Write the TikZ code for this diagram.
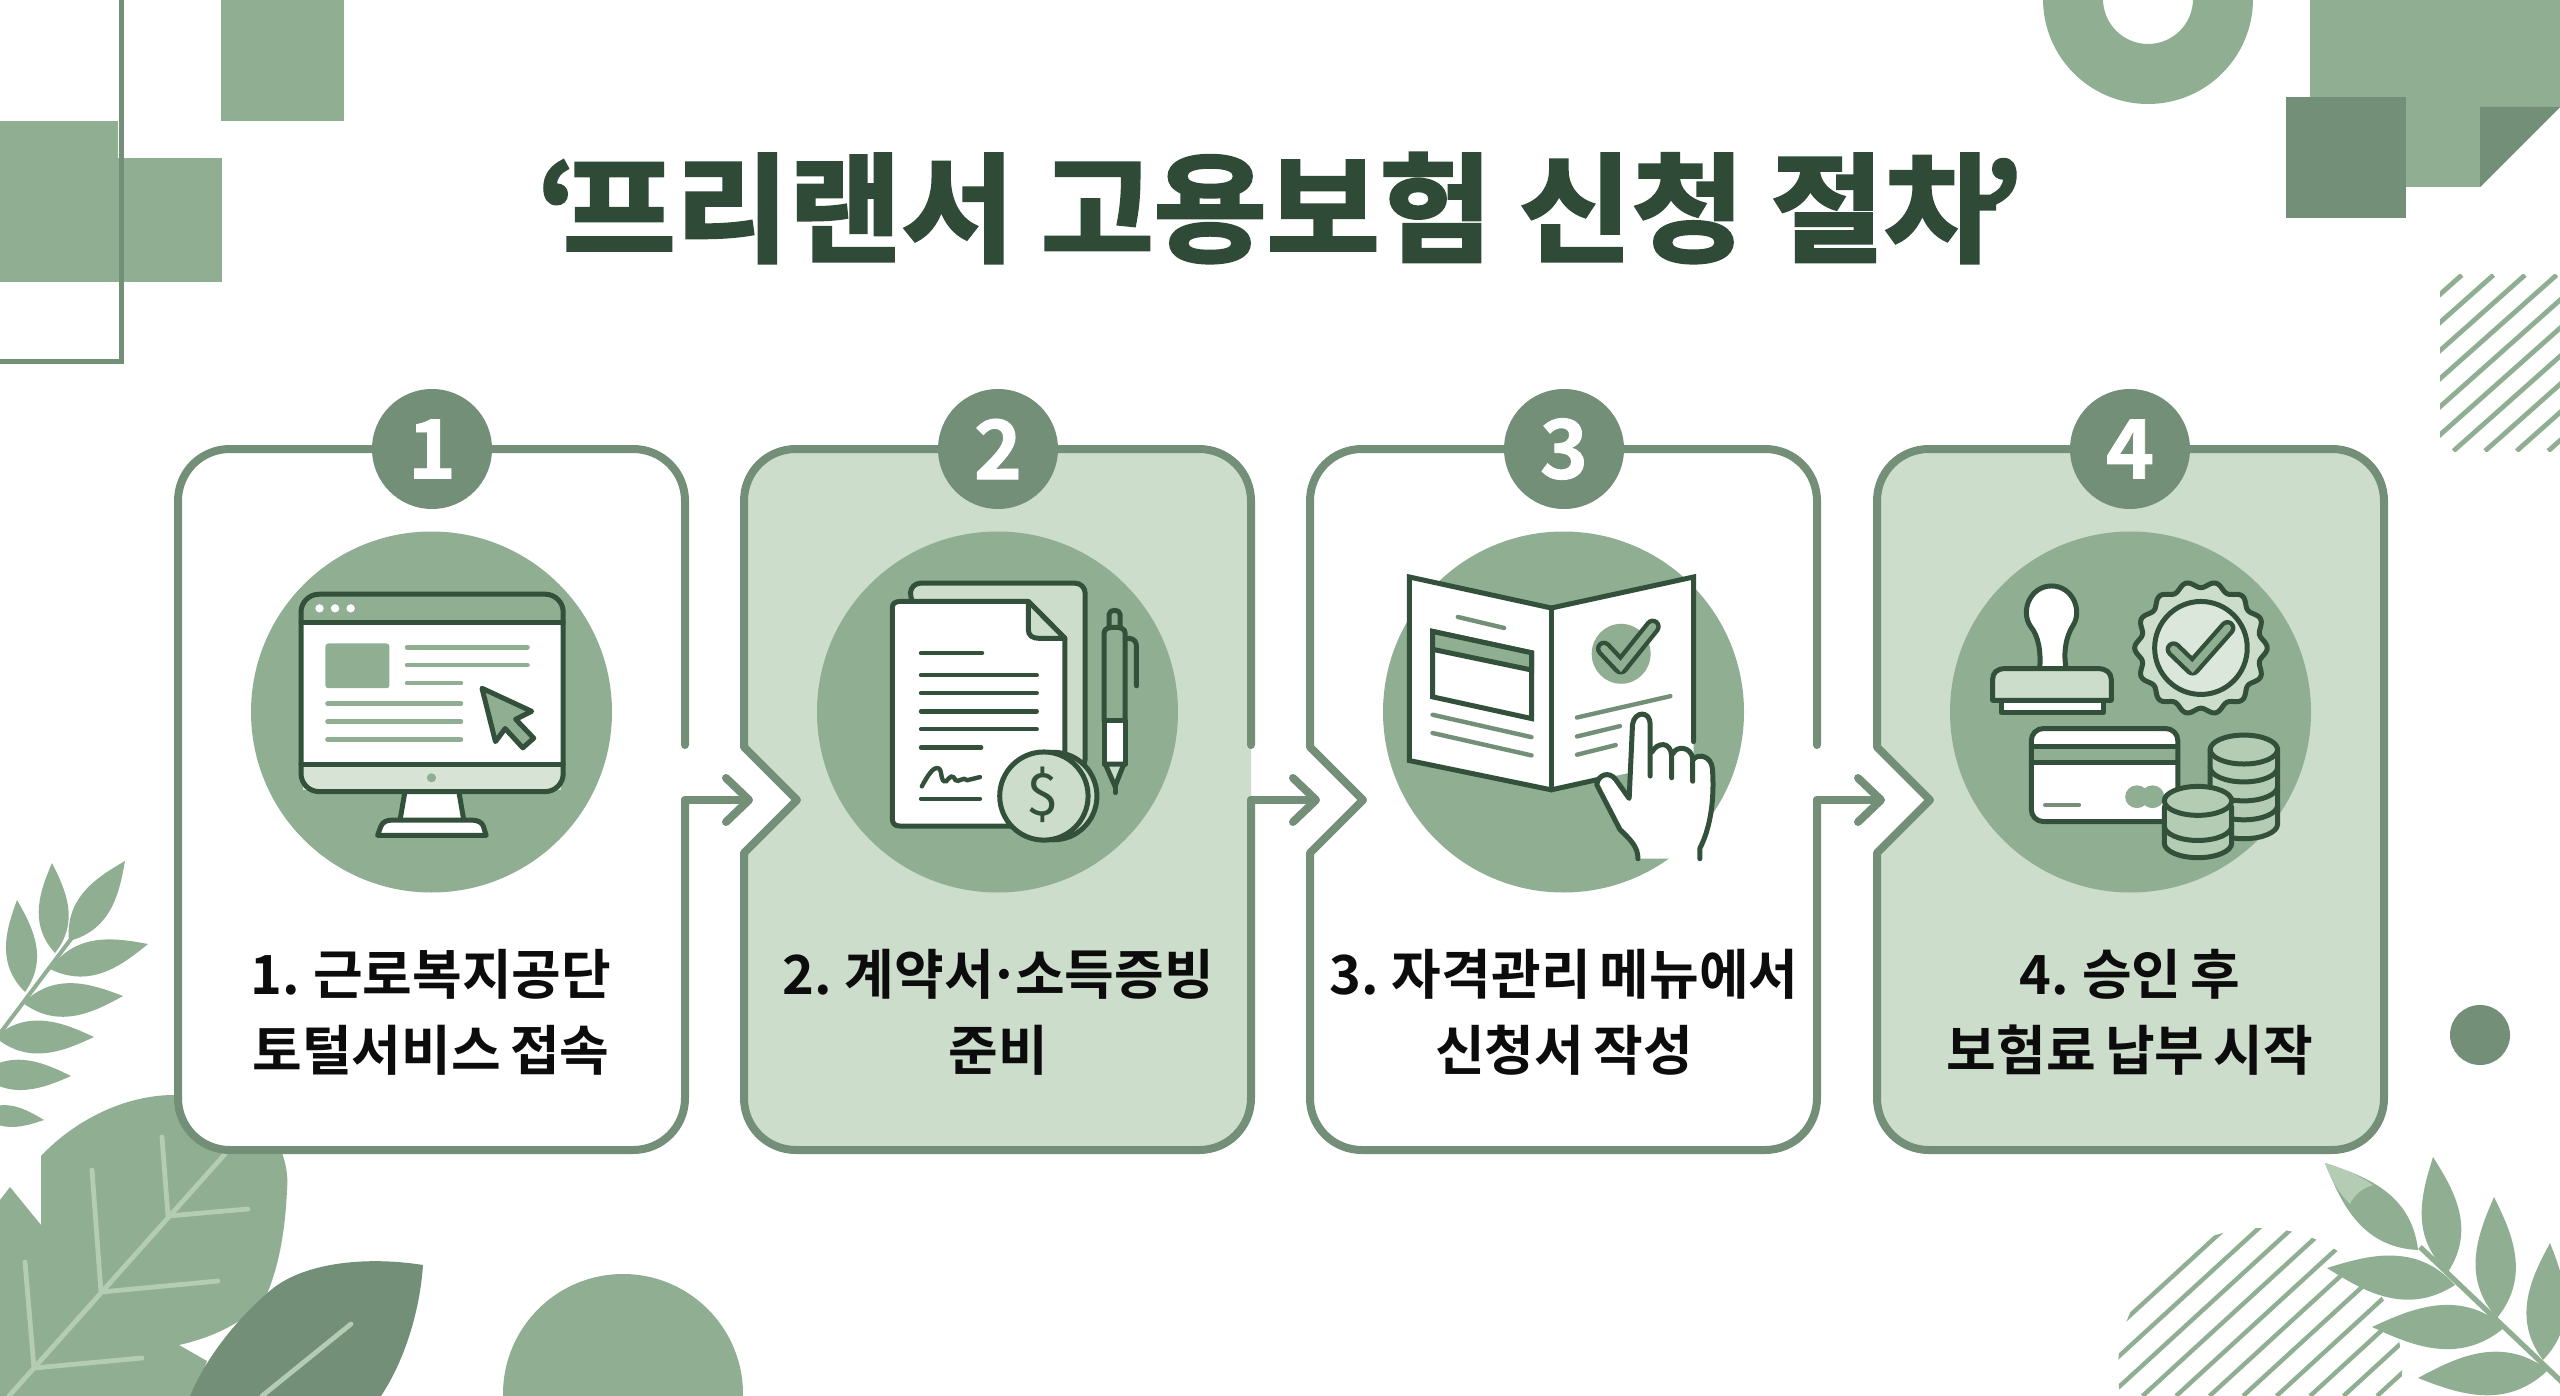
\documentclass[tikz,border=0pt]{standalone}
\usepackage{fontspec}
\usetikzlibrary{calc,arrows.meta}
\newfontfamily\kr{Noto Sans CJK KR}[BoldFont={Noto Sans CJK KR Bold},WordSpace=.75]
\newfontfamily\krdigit{Noto Sans CJK KR Bold}[FakeBold=1]
\newfontfamily\krblack{Noto Sans CJK KR Bold}[FakeBold=2.6,FakeStretch=1.04,WordSpace=.95]
\definecolor{leafmid}{HTML}{8FAE92}
\definecolor{leafdark}{HTML}{748F78}
\definecolor{leafpale}{HTML}{CDDDCB}
\definecolor{leafvein}{HTML}{B5CCB4}
\definecolor{ink}{HTML}{33503B}
\definecolor{titleink}{HTML}{2F4A36}
\definecolor{labelink}{HTML}{0C0C0C}
\tikzset{
  outline/.style={draw=leafdark,line width=4pt,line cap=round,line join=round},
  flowline/.style={draw=leafdark,line width=4pt,line cap=round,line join=round,
    -{Straight Barb[length=11.5pt,width=22pt,round]}},
  badge/.style={circle,fill=leafdark,text=white,minimum size=60pt,inner sep=0pt,
    font=\krdigit\fontsize{41}{41}\selectfont},
  steplabel/.style={align=center,inner sep=0pt,text=labelink,
    font=\kr\bfseries\fontsize{27}{38}\selectfont},
  iconview/.style={xscale=.4209,yscale=.3444},
  inkline/.style={draw=ink,line width=2.5pt,line join=round,line cap=round},
  softbar/.style={draw=leafmid,line width=2.3pt,line cap=round},
  darkbar/.style={draw=leafdark,line width=2.2pt,line cap=round},
  inkbar/.style={draw=ink,line width=2.2pt,line cap=round},
  vein/.style={draw=leafvein,line width=2.4pt,line cap=round},
  checkouter/.style={draw=ink,line width=8pt,line cap=round,line join=round},
  checkinner/.style={draw=leafmid,line width=3.6pt,line cap=round,line join=miter},
}
% Tapered leaf between a base point and a tip
\newcommand\sprigleaf[2]{%
  \fill[leafmid] (#1) .. controls ($(#1)!.35!(#2)!.46!90:(#2)$) and ($(#1)!.72!(#2)!.46!90:(#2)$) .. (#2)
    .. controls ($(#1)!.72!(#2)!.46!-90:(#2)$) and ($(#1)!.35!(#2)!.46!-90:(#2)$) .. (#1) -- cycle;}
% Outer contour of a step card, from the upper end of its right edge round to the lower part
\newcommand\cardcontour[2]{%
  (#1+507,745) -- (#1+507,501) .. controls (#1+507,472) and (#1+484,449) .. (#1+455,449)
  -- (#1+52,449) .. controls (#1+23,449) and (#1,472) .. (#1,501) #2
  -- (#1,1098) .. controls (#1,1127) and (#1+23,1150) .. (#1+52,1150)
  -- (#1+455,1150) .. controls (#1+484,1150) and (#1+507,1127) .. (#1+507,1098)}
\newcommand\notchside[1]{-- (#1,747) -- (#1+53,800) -- (#1,853)}
% One band of a coin stack
\newcommand\coinlayer[3]{%
  \filldraw[inkline,fill=#3] (#1-80,#2-55) -- (#1-80,#2)
    .. controls (#1-80,#2+23) and (#1-44,#2+42) .. (#1,#2+42)
    .. controls (#1+44,#2+42) and (#1+80,#2+23) .. (#1+80,#2) -- (#1+80,#2-55) -- cycle;}
\begin{document}
\begin{tikzpicture}[x=.5pt,y=-.5pt]
\useasboundingbox (0,0) rectangle (2560,1396);
\clip (0,0) rectangle (2560,1396);
\fill[white] (0,0) rectangle (2560,1396);

% Upper left blocks
\fill[leafmid] (221,0) rectangle (344,121);
\fill[leafmid] (0,121) rectangle (118,282);
\fill[leafmid] (118,158) rectangle (222,282);
\draw[leafdark,line width=2.5pt] (121,-5) -- (121,361) -- (-5,361);

% Upper right ring, sheet and hatching
\fill[leafmid,even odd rule] (2148,-1) circle[radius=105] (2148,-1) circle[radius=45];
\fill[leafmid] (2310,0) -- (2560,0) -- (2560,107) -- (2480,187) -- (2310,187) -- cycle;
\fill[leafdark] (2480,107) -- (2560,107) -- (2480,187) -- cycle;
\fill[leafdark] (2286,97) rectangle (2406,218);
\begin{scope}
  \clip (2440,275) rectangle (2560,451);
  \foreach \k in {0,...,10} \draw[leafmid,line width=2.4pt] ({2430.2+31.6*\k},275) -- ({2232.2+31.6*\k},451);
\end{scope}

% Lower right hatching disc, dot and sprig
\begin{scope}
  \clip (2260,1370) circle[radius=142];
  \foreach \k in {0,...,12} \draw[leafmid,line width=2.2pt] ({2042+33.5*\k+214},1200) -- ({2042+33.5*\k},1396);
\end{scope}
\fill[leafdark] (2480,1035) circle[radius=30];
\draw[leafmid,line width=2.6pt] (2420,1247) -- (2565,1385);
\sprigleaf{2418,1250}{2325,1163}
\sprigleaf{2448,1272}{2433,1157}
\sprigleaf{2497,1318}{2494,1197}
\sprigleaf{2543,1360}{2550,1243}
\sprigleaf{2455,1285}{2327,1268}
\sprigleaf{2505,1327}{2372,1327}
\sprigleaf{2548,1370}{2418,1378}
\fill[leafvein] (2325,1163) .. controls (2345,1169) and (2360,1176) .. (2373,1185) .. controls (2362,1188) and (2354,1195) .. (2350,1204) .. controls (2338,1192) and (2330,1178) .. (2325,1163) -- cycle;

% Lower left sprig
\draw[leafmid,line width=2pt] (-5,1040) -- (71,939);
\sprigleaf{69,941}{125,861}
\sprigleaf{55,953}{52,863}
\sprigleaf{25,992}{17,900}
\sprigleaf{50,969}{148,944}
\sprigleaf{23,1003}{123,996}
\sprigleaf{-5,1037}{94,1037}
\sprigleaf{-20,1074}{71,1076}
\sprigleaf{-20,1113}{44,1120}

% Lower left large leaf with its veins
\fill[leafmid] (0,1200) -- (10,1187) -- (41,1225) -- (41,1156)
  .. controls (75,1120) and (125,1095) .. (174,1095) -- (240,1100)
  .. controls (275,1125) and (290,1160) .. (287,1190)
  .. controls (285,1235) and (278,1270) .. (264,1301)
  .. controls (240,1325) and (210,1338) .. (179,1345)
  -- (207,1361) -- (195,1396) -- (0,1396) -- cycle;
\draw[vein] (9,1396) -- (225,1154);
\draw[vein] (34,1368) -- (25,1262) (34,1368) -- (142,1358);
\draw[vein] (101,1292) -- (92,1170) (101,1292) -- (218,1281);
\draw[vein] (168,1216) -- (162,1137) (168,1216) -- (248,1209);

% Dark leaf and bottom disc
\fill[leafdark] (423,1265) .. controls (360,1255) and (300,1265) .. (271,1290)
  .. controls (235,1320) and (205,1360) .. (190,1396) -- (381,1396)
  .. controls (405,1360) and (420,1310) .. (423,1265) -- cycle;
\draw[vein] (351,1324) -- (262,1396);
\fill[leafmid] (623,1394) circle[radius=120];

% Heading
\node[text=titleink,inner sep=0pt,font=\krblack\fontsize{59}{59}\selectfont] (heading) at (1280,208)
  {‘\kern-.12em 프리랜서 고용보험 신청 절차\kern-.12em ’};

% Step cards
\foreach \cid/\cx/\cfill/\side in {1/178/white/,2/744/leafpale/\notchside{744},3/1310/white/\notchside{1310},4/1877/leafpale/\notchside{1877}}{
  \fill[\cfill] \cardcontour{\cx}{\side} -- cycle;
  \fill[leafmid] (\cx+253.5,712) circle[radius=180.5];
}
\draw[outline] \cardcontour{178}{} -- (685,800) coordinate (exitA);
\draw[outline] \cardcontour{744}{\notchside{744}} -- (1251,800) coordinate (exitB);
\draw[outline] \cardcontour{1310}{\notchside{1310}} -- (1817,800) coordinate (exitC);
\draw[outline] \cardcontour{1877}{\notchside{1877}} -- cycle;
\coordinate (entryB) at (753,800);
\coordinate (entryC) at (1320,800);
\coordinate (entryD) at (1885,800);
\draw[flowline] (exitA) -- (entryB);
\draw[flowline] (exitB) -- (entryC);
\draw[flowline] (exitC) -- (entryD);

\node[badge] (badge1) at (432,449) {1};
\node[badge] (badge2) at (998,449) {2};
\node[badge] (badge3) at (1564,449) {3};
\node[badge] (badge4) at (2130,449) {4};

\node[steplabel] (label1) at (431,1012) {1. 근로복지공단\\토털서비스 접속};
\node[steplabel] (label2) at (998,1012) {2. 계약서\kern-.1em ·\kern-.1em 소득증빙\\준비};
\node[steplabel] (label3) at (1564,1012) {3. 자격관리 메뉴에서\\신청서 작성};
\node[steplabel] (label4) at (2130,1012) {4. 승인 후\\보험료 납부 시작};

% Monitor icon
\begin{scope}[shift={(160,380)},iconview]
  \fill[white,rounded corners=9pt] (335,622) rectangle (958,1195);
  \fill[leafmid] (340,627) -- (953,627) -- (953,705) -- (340,705) -- cycle;
  \fill[leafpale!80!white] (340,1115) rectangle (953,1190);
  \draw[inkline,rounded corners=9pt] (335,622) rectangle (958,1195);
  \draw[inkline] (335,705) -- (958,705) (335,1115) -- (958,1115);
  \foreach \u in {379,416,453} \fill[white] (\u,663) circle[x radius=10,y radius=12];
  \fill[leafmid] (645,1155) circle[x radius=11,y radius=13];
  \fill[leafmid,rounded corners=1.5pt] (393,765) rectangle (545,895);
  \draw[softbar] (587,776) -- (873,776) (587,828) -- (873,828) (587,880) -- (715,880)
    (398,940) -- (715,940) (398,992) -- (715,992) (398,1044) -- (715,1044);
  \filldraw[inkline,fill=leafmid] (765,895) -- (883,962) -- (845,985) -- (888,1040) -- (862,1068) -- (820,1012) -- (797,1050) -- cycle;
  \filldraw[inkline,fill=white] (582,1195) -- (570,1280) -- (722,1280) -- (710,1195) -- cycle;
  \filldraw[inkline,fill=white] (517,1322) -- (525,1295) .. controls (530,1282) and (540,1278) .. (550,1278) -- (742,1278) .. controls (755,1278) and (765,1285) .. (768,1295) -- (775,1322) -- cycle;
\end{scope}

% Contract, coin and pen icon
\begin{scope}[shift={(740,380)},iconview]
  \filldraw[inkline,fill=leafpale,rounded corners=5pt] (405,645) -- (405,590) -- (820,590) -- (820,1130) -- (700,1130) -- cycle;
  \filldraw[inkline,fill=white] (380,643) -- (685,643) -- (772,750) -- (772,1295) -- (380,1295) .. controls (368,1295) and (362,1288) .. (362,1275) -- (362,660) .. controls (362,650) and (368,643) .. (380,643) -- cycle;
  \filldraw[inkline,fill=leafpale] (685,643) -- (685,725) .. controls (685,742) and (695,750) .. (710,750) -- (772,750) -- cycle;
  \draw[inkbar] (430,793) -- (575,793) (430,857) -- (705,857) (430,909) -- (705,909)
    (430,962) -- (705,962) (430,1014) -- (705,1014) (430,1067) -- (573,1067) (430,1216) -- (570,1216);
  \draw[inkbar] (432,1180) .. controls (445,1150) and (460,1120) .. (472,1128) .. controls (482,1135) and (475,1170) .. (490,1165) .. controls (500,1150) and (505,1145) .. (512,1162) .. controls (520,1170) and (530,1150) .. (540,1162) -- (570,1153);
  % pen
  \filldraw[inkline,fill=leafmid] (877,720) -- (877,680) .. controls (877,665) and (903,665) .. (903,680) -- (903,720);
  \filldraw[inkline,fill=leafmid] (865,990) -- (865,735) .. controls (865,722) and (875,718) .. (890,718) .. controls (905,718) and (915,722) .. (915,735) -- (915,990) -- cycle;
  \filldraw[inkline,fill=white] (865,990) rectangle (915,1115);
  \filldraw[inkline,fill=leafpale] (868,1115) -- (912,1115) -- (891,1180) -- cycle;
  \draw[inkline] (891,1180) -- (891,1198);
  \draw[inkline] (915,750) -- (925,750) .. controls (938,752) and (942,762) .. (942,775) -- (942,888);
  % coin
  \filldraw[inkline,fill=leafpale] (745,1208) circle[x radius=103,y radius=127];
  \filldraw[inkline,fill=leafpale] (722,1208) circle[x radius=105,y radius=128];
  \node[text=ink,inner sep=0pt,font=\kr\fontsize{29}{29}\selectfont] (coinsign) at (718,1205) {\$};
\end{scope}

% Open form and pointing hand icon
\begin{scope}[shift={(1300,380)},iconview]
  \fill[white] (260,572) -- (597,662) -- (935,572) -- (935,1100) -- (597,1190) -- (260,1105) -- cycle;
  \draw[inkline,line join=miter] (935,1050) -- (935,572) -- (597,662) -- (260,572) -- (260,1105) -- (597,1190) -- (715,1158);
  \draw[inkline] (597,662) -- (597,1190);
  \draw[darkbar] (375,688) -- (485,720);
  \filldraw[inkline,fill=white,line join=miter] (315,730) -- (550,792) -- (550,983) -- (315,920) -- cycle;
  \filldraw[inkline,fill=leafmid,line join=miter] (315,730) -- (550,792) -- (550,842) -- (315,782) -- cycle;
  \draw[darkbar] (315,972) -- (550,1037) (315,1025) -- (550,1090)
    (658,980) -- (880,918) (658,1035) -- (760,1005) (658,1088) -- (750,1060);
  \fill[leafmid] (763,795) circle[x radius=70,y radius=87];
  \draw[checkouter] (722,780) -- (762,832) -- (838,716);
  \draw[checkinner] (722,780) -- (762,832) -- (838,716);
  % hand
  \fill[white] (803,1390) .. controls (803,1355) and (785,1335) .. (760,1305) -- (705,1175)
    .. controls (708,1145) and (735,1135) .. (750,1160) -- (782,1215) -- (790,1000)
    .. controls (795,960) and (832,960) .. (832,1000) -- (842,1075) .. controls (850,1050) and (880,1050) .. (883,1090)
    .. controls (895,1060) and (930,1065) .. (933,1100) .. controls (945,1085) and (978,1090) .. (980,1130)
    .. controls (985,1220) and (975,1300) .. (950,1360) -- (950,1390) -- cycle;
  \draw[inkline] (803,1390) .. controls (803,1355) and (785,1335) .. (760,1305) -- (705,1175)
    .. controls (708,1145) and (735,1135) .. (750,1160) -- (782,1215) -- (790,1000)
    .. controls (795,960) and (832,960) .. (832,1000) -- (832,1150);
  \draw[inkline] (836,1080) .. controls (850,1050) and (880,1050) .. (883,1090) -- (883,1155);
  \draw[inkline] (886,1085) .. controls (895,1060) and (930,1065) .. (933,1100) -- (933,1165);
  \draw[inkline] (936,1100) .. controls (945,1085) and (978,1090) .. (980,1130)
    .. controls (985,1220) and (975,1300) .. (950,1360) -- (950,1390);
\end{scope}

% Stamp, seal, card and coins icon
\begin{scope}[shift={(1860,380)},iconview]
  \filldraw[inkline,fill=white] (427,838) .. controls (430,790) and (425,745) .. (405,715)
    .. controls (380,670) and (405,598) .. (455,598) .. controls (505,598) and (530,670) .. (505,715)
    .. controls (490,745) and (482,790) .. (490,838) -- cycle;
  \filldraw[inkline,fill=white] (335,930) rectangle (578,965);
  \filldraw[inkline,fill=leafpale] (315,930) -- (315,870) .. controls (315,850) and (325,838) .. (345,838) -- (565,838) .. controls (585,838) and (597,850) .. (597,870) -- (597,930) -- cycle;
  \filldraw[inkline,fill=leafpale] plot[domain=0:360,samples=169,variable=\t,smooth]
    ({810+150*(1+.05*cos(14*\t))*cos(\t)},{778+184*(1+.05*cos(14*\t))*sin(\t)}) -- cycle;
  \filldraw[inkline,fill=leafpale!70!white] (810,778) circle[x radius=110,y radius=135];
  \draw[checkouter] (745,782) -- (790,835) -- (873,720);
  \draw[checkinner] (745,782) -- (790,835) -- (873,720);
  \fill[white,rounded corners=6pt] (407,1012) rectangle (755,1282);
  \fill[leafmid] (410,1065) rectangle (752,1110);
  \draw[inkline] (407,1065) -- (755,1065) (407,1110) -- (755,1110);
  \draw[inkline,rounded corners=6pt] (407,1012) rectangle (755,1282);
  \draw[darkbar] (440,1234) -- (520,1234);
  \fill[leafmid] (658,1210) circle[x radius=28,y radius=33] (695,1210) circle[x radius=28,y radius=33];
  \coinlayer{912}{1290}{leafvein}
  \coinlayer{912}{1235}{leafvein}
  \coinlayer{912}{1180}{leafvein}
  \coinlayer{912}{1125}{leafvein}
  \filldraw[inkline,fill=leafvein] (912,1073) circle[x radius=80,y radius=42];
  \coinlayer{803}{1345}{leafvein}
  \coinlayer{803}{1295}{leafvein}
  \filldraw[inkline,fill=leafvein] (803,1222) circle[x radius=80,y radius=42];
\end{scope}
\end{tikzpicture}
\end{document}
